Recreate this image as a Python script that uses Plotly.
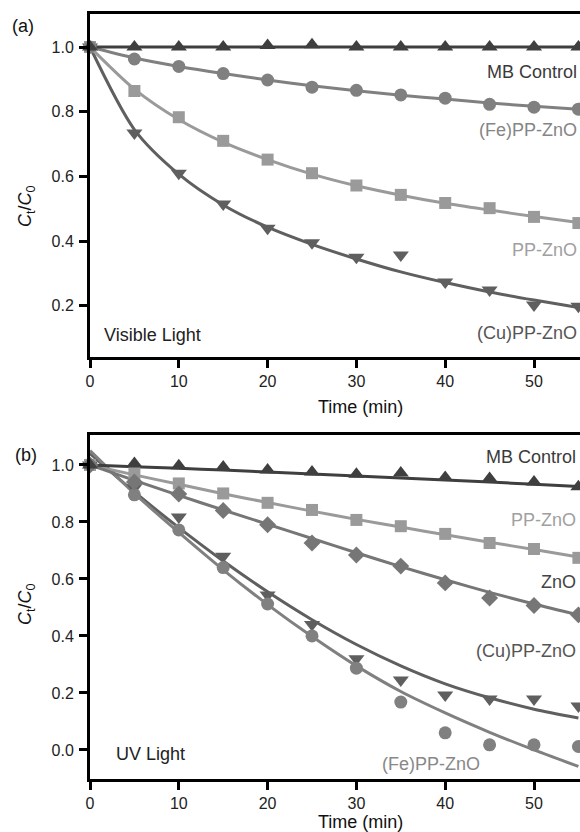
import plotly.graph_objects as go

# ---------------- data ----------------
times = [0, 5, 10, 15, 20, 25, 30, 35, 40, 45, 50, 55]

# (a) Visible light
a_mb = [1.0, 1.0, 1.0, 1.0, 1.005, 1.007, 1.0, 1.0, 1.0, 1.0, 1.0, 1.0]
a_mb_fit = [1.0, 1.0, 1.0, 1.0, 1.0, 1.0, 1.0, 1.0, 1.0, 1.0, 1.0, 1.0]
a_fe = [1.0, 0.963, 0.94, 0.918, 0.898, 0.876, 0.866, 0.852, 0.842, 0.823, 0.814, 0.808]
a_fe_fit = [1.0, 0.966, 0.94, 0.918, 0.898, 0.88, 0.865, 0.851, 0.839, 0.827, 0.817, 0.808]
a_pp = [1.0, 0.864, 0.783, 0.71, 0.652, 0.61, 0.572, 0.543, 0.518, 0.502, 0.475, 0.456]
a_pp_fit = [1.0, 0.87, 0.776, 0.706, 0.652, 0.607, 0.571, 0.542, 0.517, 0.496, 0.476, 0.458]
a_cu = [1.0, 0.734, 0.61, 0.515, 0.44, 0.395, 0.35, 0.357, 0.274, 0.249, 0.203, 0.199]
a_cu_fit = [1.0, 0.745, 0.607, 0.512, 0.443, 0.39, 0.345, 0.305, 0.272, 0.243, 0.218, 0.195]

# (b) UV light
b_mb = [1.0, 1.005, 0.997, 0.993, 0.982, 0.975, 0.967, 0.972, 0.956, 0.952, 0.94, 0.923]
b_mb_fit = [1.0, 0.994, 0.988, 0.982, 0.975, 0.968, 0.961, 0.954, 0.947, 0.94, 0.932, 0.924]
b_pp = [1.0, 0.97, 0.935, 0.9, 0.867, 0.842, 0.807, 0.785, 0.758, 0.726, 0.705, 0.674]
b_pp_fit = [1.0, 0.965, 0.932, 0.899, 0.868, 0.838, 0.809, 0.782, 0.755, 0.729, 0.703, 0.677]
b_zno = [1.0, 0.94, 0.898, 0.84, 0.79, 0.726, 0.684, 0.645, 0.586, 0.533, 0.507, 0.474]
b_zno_fit = [1.0, 0.946, 0.893, 0.842, 0.792, 0.742, 0.692, 0.643, 0.597, 0.553, 0.512, 0.474]
b_cu = [1.0, 0.92, 0.817, 0.68, 0.544, 0.44, 0.32, 0.245, 0.193, 0.179, 0.179, 0.154]
b_cu_fit = [1.04, 0.905, 0.78, 0.663, 0.555, 0.457, 0.37, 0.295, 0.232, 0.183, 0.143, 0.112]
b_fe = [1.0, 0.895, 0.772, 0.64, 0.512, 0.40, 0.287, 0.168, 0.06, 0.018, 0.018, 0.012]
b_fe_fit = [1.05, 0.9, 0.763, 0.632, 0.51, 0.398, 0.295, 0.205, 0.13, 0.062, 0.0, -0.058]

x_ticks = [0, 10, 20, 30, 40, 50]
a_yticks = [0.2, 0.4, 0.6, 0.8, 1.0]
b_yticks = [0.0, 0.2, 0.4, 0.6, 0.8, 1.0]

# ---------------- styles ----------------
C_MB = "#3f3f3f"
C_CU = "#5f5f5f"
C_FE = "#808080"
C_PP = "#9a9a9a"
C_ZNO = "#767676"
FONT = "Liberation Sans, Arial, sans-serif"

W, H = 580, 832
ML, MR, MT, MB = 90, 0, 14, 53
PW, PH = W - ML - MR, H - MT - MB


def px(xp):
    return (xp - ML) / PW


def py(yp):
    return (H - MB - yp) / PH


fig = go.Figure()


def add_series(xa, ya, y, yfit, color, symbol, size):
    fig.add_trace(go.Scatter(x=times, y=yfit, mode="lines", xaxis=xa, yaxis=ya,
                             line=dict(color=color, width=3, shape="spline", smoothing=0.8),
                             cliponaxis=False, showlegend=False, hoverinfo="skip"))
    return dict(x=times, y=y, mode="markers", xaxis=xa, yaxis=ya,
                marker=dict(color=color, symbol=symbol, size=size, line=dict(width=0)),
                cliponaxis=False, showlegend=False)


marks = []
marks.append(add_series("x", "y", a_cu, a_cu_fit, C_CU, "triangle-down", 14))
marks.append(add_series("x", "y", a_pp, a_pp_fit, C_PP, "square", 12))
marks.append(add_series("x", "y", a_fe, a_fe_fit, C_FE, "circle", 13))
marks.append(add_series("x", "y", a_mb, a_mb_fit, C_MB, "triangle-up", 14))

marks.append(add_series("x2", "y2", b_cu, b_cu_fit, C_CU, "triangle-down", 14))
marks.append(add_series("x2", "y2", b_fe, b_fe_fit, C_FE, "circle", 13))
marks.append(add_series("x2", "y2", b_pp, b_pp_fit, C_PP, "square", 12))
marks.append(add_series("x2", "y2", b_zno, b_zno_fit, C_ZNO, "diamond", 13))
marks.append(add_series("x2", "y2", b_mb, b_mb_fit, C_MB, "triangle-up", 14))
for m in marks:
    fig.add_trace(go.Scatter(**m))

axis_common = dict(showline=True, linewidth=3, linecolor="black", ticks="outside",
                   ticklen=8, tickwidth=3, tickcolor="black", showgrid=False,
                   zeroline=False, tickfont=dict(family=FONT, size=16, color="#222"))

a_top, a_bot = 14, 357
b_top, b_bot = 435, 779

fig.update_layout(
    width=W, height=H,
    margin=dict(l=ML, r=MR, t=MT, b=MB),
    paper_bgcolor="white", plot_bgcolor="white",
    xaxis=dict(domain=[0, 1], anchor="y", range=[0, PW / 8.88], tickvals=x_ticks,
               mirror=True, ticklabelstandoff=0, **axis_common),
    yaxis=dict(domain=[py(a_bot), py(a_top)], anchor="x", range=[0.042, 1.102],
               tickvals=a_yticks, tickformat=".1f", ticklabelstandoff=2, **axis_common),
    xaxis2=dict(domain=[0, 1], anchor="y2", range=[0, PW / 8.88], tickvals=x_ticks,
                mirror=True, ticklabelstandoff=0, **axis_common),
    yaxis2=dict(domain=[py(b_bot), py(b_top)], anchor="x2", range=[-0.102, 1.105],
                tickvals=b_yticks, tickformat=".1f", ticklabelstandoff=2, **axis_common),
)


def ann(text, xp, yp, color="#222", size=18, xanchor="center", angle=0):
    fig.add_annotation(text=text, x=px(xp), y=py(yp), xref="paper", yref="paper",
                       xanchor=xanchor, yanchor="middle", showarrow=False,
                       textangle=angle, font=dict(family=FONT, size=size, color=color))


ann("(a)", 23, 26, color="#111")
ann("(b)", 26, 455, color="#111")
ytitle = "<i>C</i><sub>t</sub>/<i>C</i><sub>0</sub>"
ann(ytitle, 26, 206, angle=-90, color="#111")
ann(ytitle, 26, 604, angle=-90, color="#111")
ann("Time (min)", 360, 407, color="#111")
ann("Time (min)", 360, 822, color="#111")

ann("MB Control", 579, 72, color="#3a3a3a", xanchor="right")
ann("(Fe)PP-ZnO", 579, 130, color="#858585", xanchor="right")
ann("PP-ZnO", 579, 250, color="#a0a0a0", xanchor="right")
ann("(Cu)PP-ZnO", 579, 333, color="#555555", xanchor="right")
ann("Visible Light", 102, 335, color="#222", xanchor="left")

ann("MB Control", 578, 457, color="#3a3a3a", xanchor="right")
ann("PP-ZnO", 578, 520, color="#a0a0a0", xanchor="right")
ann("ZnO", 578, 582, color="#444444", xanchor="right")
ann("(Cu)PP-ZnO", 578, 651, color="#555555", xanchor="right")
ann("(Fe)PP-ZnO", 380, 764, color="#888888", xanchor="left")
ann("UV Light", 114, 754, color="#222", xanchor="left")

fig.write_html("out.html",
               config={"displayModeBar": False},
               post_script="document.body.style.margin='0';document.body.style.overflow='hidden';")
